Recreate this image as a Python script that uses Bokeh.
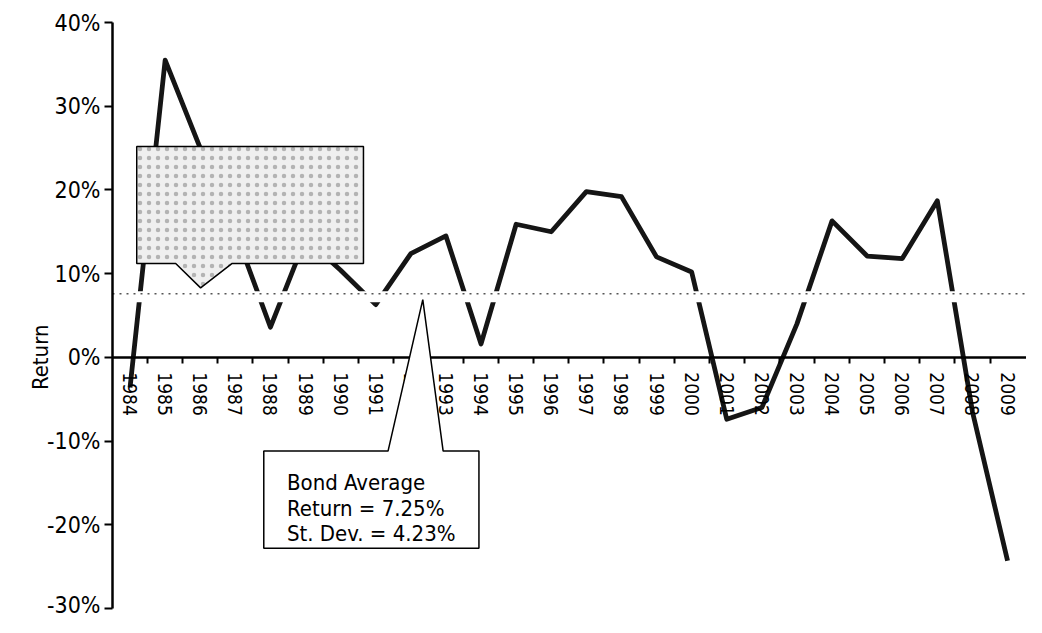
import math
from bokeh.plotting import figure
from bokeh.models import (LinearAxis, FixedTicker, PrintfTickFormatter, Range1d,
                          PolyAnnotation, Label)
from bokeh.embed import file_html
from bokeh.resources import INLINE

# ---- data ----
years = [str(y) for y in range(1984, 2010)]
returns = [-3.6, 35.5, 25.0, 15.0, 3.6, 14.2, 10.4, 6.3, 12.4, 14.5,
           1.6, 15.9, 15.0, 19.8, 19.2, 12.0, 10.2, -7.4, -6.0, 4.0,
           16.3, 12.1, 11.8, 18.7, -6.5, -24.3]
avg_return = 7.25
std_dev = 4.23
y_ticks = [-30, -20, -10, 0, 10, 20, 30, 40]
y_label = "Return"

FONT = "'DejaVu Sans Condensed', 'Liberation Sans Narrow', Roboto, sans-serif"

n = len(years)
x_pos = [i + 0.5 for i in range(n)]
x_bounds = [x_pos[0] - 0.5, x_pos[-1] + 0.5]

W, H = 1026, 617
# horizontal: y axis at px 112, 35.1 px per category
x_start = -112 / 35.1
x_end = x_start + W / 35.1
# vertical: 40% at px 22, 8.371 px per percent
y_top = 40 + 22 / 8.371
y_bot = y_top - H / 8.371

p = figure(width=W, height=H, output_backend="svg", toolbar_location=None,
           x_range=Range1d(x_start, x_end), y_range=Range1d(y_bot, y_top),
           x_axis_type=None, y_axis_type=None, min_border=0,
           outline_line_color=None)
p.background_fill_color = "white"
p.border_fill_color = "white"

# data line
p.line(x_pos, returns, line_width=4.8, line_color="#151515", line_join="round")

# average line: white band with dotted line
p.line(x_bounds, [avg_return, avg_return], line_width=11, line_color="white")
p.line(x_bounds, [avg_return + 0.35, avg_return + 0.35], line_width=1.5,
       line_color="#555555", line_dash="2 5")

# y axis at x = 0
yax = LinearAxis(fixed_location=0, ticker=FixedTicker(ticks=y_ticks),
                 formatter=PrintfTickFormatter(format="%d%%"),
                 bounds=(y_ticks[0], y_ticks[-1]),
                 axis_line_width=2.5, axis_line_color="black",
                 major_tick_out=8, major_tick_in=0, major_tick_line_width=2,
                 minor_tick_line_color=None,
                 major_label_text_font=FONT, major_label_text_font_size="23px",
                 major_label_text_color="black", major_label_standoff=4)
p.add_layout(yax, "left")

# x axis at y = 0: tick marks on category boundaries
xax = LinearAxis(fixed_location=0, ticker=FixedTicker(ticks=list(range(1, n))),
                 bounds=(x_bounds[0], x_bounds[1] + 1),
                 axis_line_width=2.5, axis_line_color="black",
                 major_tick_out=6, major_tick_in=0, major_tick_line_width=2,
                 minor_tick_line_color=None, major_label_text_color=None)
p.add_layout(xax, "below")

# year labels at category centres
xlab = LinearAxis(fixed_location=0, ticker=FixedTicker(ticks=x_pos),
                  major_label_overrides={x: y for x, y in zip(x_pos, years)},
                  axis_line_color=None, major_tick_line_color=None,
                  minor_tick_line_color=None,
                  major_label_orientation="vertical", major_label_standoff=9,
                  major_label_text_font=FONT, major_label_text_font_size="19px",
                  major_label_text_color="black")
p.add_layout(xlab, "below")

# axis title
p.add_layout(Label(x=-2.05, y=0, text=y_label, angle=math.pi / 2,
                   text_align="center", text_baseline="middle",
                   text_font=FONT, text_font_size="22px", text_color="black"))

# grey (illegible, stippled) callout box
p.add_layout(PolyAnnotation(
    xs=[0.69, 7.15, 7.15, 3.40, 2.51, 1.80, 0.69],
    ys=[25.2, 25.2, 11.2, 11.2, 8.3, 11.2, 11.2],
    fill_color="#efefef", fill_alpha=1.0,
    hatch_pattern="dot", hatch_color="#6a6a6a", hatch_scale=9,
    hatch_weight=1, hatch_alpha=0.45,
    line_color="black", line_alpha=1.0, line_width=1.5))

# Bond average callout
p.add_layout(PolyAnnotation(
    xs=[4.31, 7.85, 8.84, 9.42, 10.44, 10.44, 4.31],
    ys=[-11.2, -11.2, 6.9, -11.2, -11.2, -22.8, -22.8],
    fill_color="white", fill_alpha=1.0,
    line_color="black", line_alpha=1.0, line_width=1.5))

callout_lines = ["Bond Average",
                 f"Return = {avg_return:.2f}%",
                 f"St. Dev. = {std_dev:.2f}%"]
for txt, yy in zip(callout_lines, [-14.9, -18.0, -21.1]):
    p.add_layout(Label(x=4.97, y=yy, text=txt, text_align="left",
                       text_baseline="alphabetic", text_font=FONT,
                       text_font_size="22px", text_color="black"))

open("out.html", "w").write(file_html(p, INLINE))
